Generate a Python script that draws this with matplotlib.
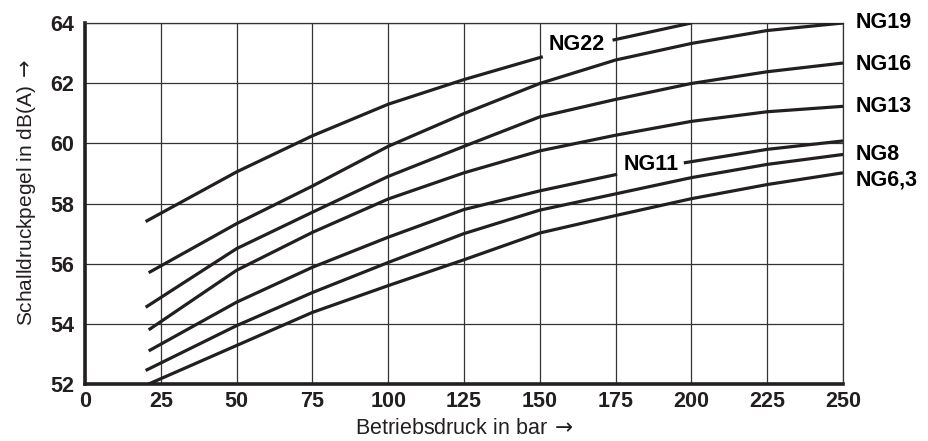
import matplotlib
matplotlib.use("Agg")
import matplotlib.pyplot as plt

plt.rcParams['font.family'] = ['Liberation Sans', 'DejaVu Sans']
plt.rcParams['mathtext.fontset'] = 'dejavusans'

# Betriebsdruck (bar) / Schalldruckpegel dB(A)
ng22_x1 = [20, 50, 75, 100, 125, 151]
ng22_y1 = [57.4, 59.05, 60.25, 61.3, 62.12, 62.88]
ng22_x2 = [174, 200]
ng22_y2 = [63.43, 64.0]

ng19_x = [21, 50, 75, 100, 125, 150, 175, 200, 225, 250]
ng19_y = [55.7, 57.33, 58.58, 59.9, 60.99, 61.99, 62.77, 63.32, 63.75, 64.0]

ng16_x = [20, 50, 75, 100, 125, 150, 175, 200, 225, 250]
ng16_y = [54.55, 56.5, 57.71, 58.9, 59.9, 60.88, 61.46, 61.99, 62.38, 62.67]

ng13_x = [21, 50, 75, 100, 125, 150, 175, 200, 225, 250]
ng13_y = [53.8, 55.78, 57.04, 58.15, 59.02, 59.75, 60.27, 60.73, 61.05, 61.23]

ng11_x1 = [21, 50, 75, 100, 125, 150, 175.5]
ng11_y1 = [53.1, 54.72, 55.88, 56.88, 57.8, 58.42, 58.97]
ng11_x2 = [197.5, 225, 250]
ng11_y2 = [59.35, 59.8, 60.08]

ng8_x = [20, 50, 75, 100, 125, 150, 175, 200, 225, 250]
ng8_y = [52.45, 53.94, 55.04, 56.04, 57.0, 57.78, 58.32, 58.86, 59.3, 59.63]

ng63_x = [21, 50, 75, 100, 125, 150, 175, 200, 225, 250]
ng63_y = [52.0, 53.28, 54.38, 55.27, 56.13, 57.02, 57.6, 58.16, 58.63, 59.02]

right_labels = ['NG19', 'NG16', 'NG13', 'NG8', 'NG6,3']
right_label_y = [64.0, 62.63, 61.24, 59.63, 58.77]

x_ticks = [0, 25, 50, 75, 100, 125, 150, 175, 200, 225, 250]
y_ticks = [52, 54, 56, 58, 60, 62, 64]

line_color = '#231f20'

fig = plt.figure(figsize=(9.29, 4.41), dpi=100)
ax = fig.add_axes([85 / 929, 57 / 441, 758 / 929, 361 / 441])

segments = [(ng22_x1, ng22_y1), (ng22_x2, ng22_y2), (ng19_x, ng19_y),
            (ng16_x, ng16_y), (ng13_x, ng13_y), (ng11_x1, ng11_y1),
            (ng11_x2, ng11_y2), (ng8_x, ng8_y), (ng63_x, ng63_y)]
for xs, ys in segments:
    ax.plot(xs, ys, color=line_color, lw=2.3, solid_capstyle='butt',
            solid_joinstyle='round', zorder=3)

# inline labels
ax.text(162.3, 63.27, 'NG22', ha='center', va='center', fontsize=15.5,
        fontweight='bold', color='black')
ax.text(186.6, 59.31, 'NG11', ha='center', va='center', fontsize=15.5,
        fontweight='bold', color='black')

# labels right of the plot
for name, yv in zip(right_labels, right_label_y):
    ax.text(254, yv, name, ha='left', va='center', fontsize=15.5,
            fontweight='bold', color='black', clip_on=False)

ax.set_xlim(0, 250)
ax.set_ylim(52, 64)
ax.set_xticks(x_ticks)
ax.set_yticks(y_ticks)
ax.tick_params(length=0, labelsize=15.5, colors='#231f20')
ax.tick_params(axis='x', pad=5)
ax.tick_params(axis='y', pad=8)
for lab in ax.get_xticklabels() + ax.get_yticklabels():
    lab.set_fontweight('bold')

ax.grid(True, color='#333333', lw=0.9)
ax.set_axisbelow(True)

for side in ['left', 'bottom']:
    ax.spines[side].set_linewidth(2.6)
    ax.spines[side].set_color('#231f20')
for side in ['top', 'right']:
    ax.spines[side].set_linewidth(0.9)
    ax.spines[side].set_color('#333333')

ax.set_xlabel('Betriebsdruck in bar\u2009$\\rightarrow$', fontsize=15.5, color='#231f20')
ax.set_ylabel('Schalldruckpegel in dB(A)\u2009$\\rightarrow$', fontsize=15, color='#231f20')
ax.xaxis.set_label_coords(0.5, -0.095)
ax.yaxis.set_label_coords(-0.062, 0.53)

fig.savefig('out.png', dpi=100)
